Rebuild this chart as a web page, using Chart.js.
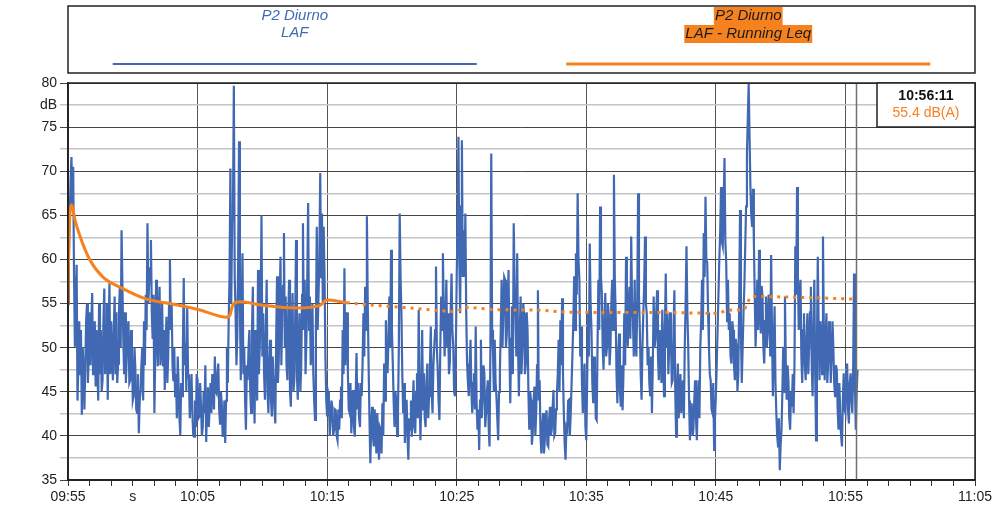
<!DOCTYPE html>
<html>
<head>
<meta charset="utf-8">
<script src="https://cdn.jsdelivr.net/npm/chart.js@4.4.1/dist/chart.umd.min.js"></script>
<style>
  html, body { margin: 0; padding: 0; background: #fff; }
  #wrap { width: 997px; height: 517px; position: relative; }
</style>
</head>
<body>
<div id="wrap"><canvas id="chart"></canvas></div>
<script>
// x axis: seconds after 09:55
const xTickLabels = ['09:55', '10:05', '10:15', '10:25', '10:35', '10:45', '10:55', '11:05'];
const sampleStep = 8; // seconds between LAF readings

// P2 Diurno - LAF (dB), one reading every 8 s from 09:55:00
const lafDb = [
  55, 65, 71.6, 70.5, 50.1, 59.4, 48, 47, 42.4, 47.5,
  48, 55, 49, 48, 56.2, 48.2, 45.6, 47.5, 55, 52,
  46.3, 56.7, 50, 44.1, 57.3, 53, 46.3, 55.8, 54, 48.2,
  56.9, 63.3, 51, 54, 49, 53, 46.3, 49.7, 44.5, 47.5,
  42.6, 40.3, 45, 50, 53, 56, 64.1, 57.5, 62.2, 51,
  42.6, 57.7, 47.9, 56.9, 50, 48, 45.2, 53.5, 49, 60,
  55, 46.2, 44.5, 42, 46, 40.1, 44.5, 57.9, 50.5, 54.7,
  46.5, 44.8, 42.6, 39.9, 41, 46.3, 42.2, 43.3, 41, 42.6,
  39.3, 45.5, 43.3, 42.6, 46.3, 49, 44.8, 48.2, 41.4, 43.7,
  40, 39.2, 50, 53, 70.3, 64.5, 79.7, 53.9, 51.3, 73.4,
  46.3, 60.7, 50.1, 40.7, 46.3, 52, 42.6, 56.9, 41.4, 48.2,
  58.8, 50.1, 65, 53.9, 44.1, 57.7, 42.6, 50.9, 42.2, 46.3,
  41.4, 58.1, 48.6, 60.3, 53.9, 63, 55.8, 46.3, 57.7, 43.3,
  56.2, 46.3, 62.2, 44.1, 53.9, 47.9, 64.1, 57.7, 50.9, 66.4,
  55.8, 50.1, 47.1, 41.8, 63.7, 55.8, 69.8, 65.2, 63.7, 49,
  42.2, 44.5, 41.8, 43.3, 40.7, 42.9, 39.5, 40.7, 45.6, 52,
  59, 50.9, 47.1, 42.6, 40.3, 45.2, 39.9, 49.4, 46, 41,
  44.5, 53.9, 56.9, 64.9, 48, 36.9, 43.3, 38.8, 41, 42.6,
  37.3, 40.7, 43.7, 48.2, 53.1, 47.1, 55.8, 61.1, 48.2, 41,
  44.1, 42.6, 65.2, 53.9, 42.6, 39.2, 44.1, 37.3, 40.7, 39.9,
  46.3, 40.3, 47.1, 54.3, 39.5, 52, 47.1, 41, 48.2, 44.5,
  52.4, 42.6, 50.1, 59.2, 47.5, 41.8, 55.8, 60.7, 49, 57.7,
  53.9, 48.2, 58.4, 50.1, 44.5, 58.1, 73.9, 53.9, 73.5, 63.3,
  65.2, 48.2, 44.5, 50.9, 42.6, 47.1, 52.4, 40.7, 38.4, 50.9,
  44.1, 47.1, 42.6, 46.3, 38.8, 72, 49.4, 50.9, 44.5, 39.5,
  47.5, 57.7, 53.9, 57.7, 51.6, 58.8, 43.7, 54.7, 64.1, 53.9,
  60.7, 44.5, 55.8, 50.1, 53.9, 48.2, 52, 40.7, 44.1, 40.3,
  45.6, 42.6, 56.5, 46.3, 38, 42.6, 39.5, 42.9, 38.8, 43.3,
  40.7, 45.2, 40.3, 44.8, 50.9, 53.1, 55.6, 42.6, 37.3, 40.7,
  44.1, 42.6, 49.4, 58.1, 60.7, 67.5, 57.7, 52.4, 42.6, 48.2,
  39.5, 53.9, 61.8, 52, 43.7, 47.1, 41.8, 57.7, 66, 56.2,
  47.5, 56.2, 50.1, 53.9, 50.1, 57.7, 69.6, 53.9, 43.7, 51.6,
  43.3, 42.9, 53.9, 60.3, 50.1, 56.9, 62.6, 53.1, 57.7, 49,
  67.5, 52, 44.1, 53.9, 62.6, 53.9, 50.1, 44.5, 42.6, 55.8,
  50.9, 56.5, 46.3, 50.1, 54.3, 44.5, 58.4, 53.9, 50.1, 50.9,
  46.3, 56.5, 39.9, 48.2, 44.5, 42.6, 46.3, 50.1, 61.5, 50.1,
  39.5, 43.7, 40.7, 46.3, 39.5, 46.3, 50.1, 57.7, 63, 67.1,
  59.6, 50.1, 46.3, 42.6, 38.4, 44.5, 52, 60, 68.2, 61.5,
  71.5, 59.6, 57.7, 53.9, 48.2, 52, 46.3, 50.1, 47.1, 65.6,
  46, 53.9, 61.5, 72, 79.9, 68.2, 63.7, 62, 50.1, 57.7,
  61.1, 51.6, 55.8, 48.2, 55.8, 51.6, 55.4, 60.5, 44.5, 54.7,
  42.6, 38.8, 36.1, 40.7, 50.1, 55.8, 44.1, 46.3, 40.7, 43.3,
  42.6, 61.5, 68.2, 52, 57.7, 46, 53.9, 46.3, 53.9, 50.1,
  56.9, 44.5, 57.7, 39.5, 60.3, 46.3, 52, 62.6, 46.3, 53.9,
  48.2, 52, 49, 50.1, 44.5, 47.5, 40.7, 42.2, 38.8, 47.1,
  42.6, 48.2, 41.4, 47.1, 42.6, 58.4, 40.7, 47.5
];

// readings 4 s after each of the above (other edge of the fast fluctuation band)
const lafDbMid = [
  60, 69, 66, 58, 55, 44, 53, 52, 50, 43,
  53, 46, 54, 53, 47, 53, 52, 44, 47, 45,
  53, 47, 55, 52, 47, 49, 52, 47, 46, 54,
  50, 57, 47, 46, 52, 46, 52, 44, 50, 43,
  47, 44, 48, 44, 48, 52, 55, 59, 54, 56,
  49, 51, 54, 48, 55, 52, 50, 46, 55, 52,
  48, 50, 47, 49, 42, 46, 50, 48, 45, 47,
  42, 47, 40, 44, 47, 42, 46, 40, 45, 48,
  44, 41, 46, 47, 43, 45, 47, 43, 45, 40,
  44, 44, 46, 58, 55, 66, 58, 48, 60, 55,
  53, 47, 44, 48, 50, 45, 52, 46, 52, 44,
  47, 54, 49, 47, 52, 45, 48, 44, 49, 43,
  51, 46, 55, 48, 57, 50, 48, 54, 45, 51,
  45, 53, 47, 51, 45, 56, 52, 47, 58, 52,
  48, 55, 44, 52, 52, 60, 58, 55, 58, 44,
  45, 40, 44, 40, 43, 40, 43, 44, 42, 47,
  48, 54, 43, 46, 44, 41, 44, 43, 42, 46,
  48, 49, 52, 55, 42, 41, 40, 43, 38, 40,
  41, 38, 40, 44, 48, 51, 50, 52, 44, 45,
  40, 50, 58, 47, 46, 43, 40, 42, 44, 43,
  41, 45, 42, 45, 44, 43, 42, 46, 42, 48,
  45, 48, 52, 50, 44, 50, 52, 54, 53, 50,
  47, 54, 52, 45, 50, 64, 60, 66, 58, 58,
  54, 46, 48, 45, 46, 43, 44, 43, 44, 42,
  48, 41, 45, 41, 50, 52, 45, 46, 42, 45,
  52, 50, 58, 50, 55, 50, 51, 47, 57, 49,
  50, 52, 47, 55, 47, 54, 45, 45, 39, 44,
  40, 48, 44, 40, 41, 38, 42, 39, 42, 40,
  43, 40, 43, 47, 45, 48, 47, 39, 41, 44,
  40, 46, 53, 52, 56, 60, 49, 46, 46, 41,
  46, 49, 55, 46, 49, 42, 50, 52, 58, 50,
  53, 49, 55, 48, 55, 52, 58, 47, 49, 45,
  48, 47, 48, 53, 55, 51, 55, 49, 51, 55,
  56, 47, 50, 57, 55, 48, 46, 49, 48, 50,
  54, 49, 52, 46, 49, 52, 50, 47, 54, 46,
  52, 45, 45, 42, 47, 45, 42, 55, 54, 44,
  43, 40, 44, 42, 44, 42, 53, 52, 58, 60,
  54, 47, 43, 46, 42, 48, 56, 63, 62, 66,
  62, 53, 52, 49, 53, 48, 51, 45, 55, 52,
  50, 57, 66, 76, 74, 65, 68, 56, 54, 52,
  55, 57, 50, 53, 50, 56, 49, 52, 50, 46,
  40, 42, 39, 45, 45, 48, 48, 42, 45, 47,
  48, 56, 58, 56, 49, 52, 48, 51, 47, 54,
  48, 52, 47, 50, 52, 53, 47, 52, 51, 46,
  53, 46, 53, 46, 48, 43, 46, 40, 44, 43,
  47, 43, 46, 44, 48, 46, 45
];

// P2 Diurno - LAF Running Leq
const leqSec = [0, 3, 17, 32, 56, 102, 162, 249, 364, 472, 611, 735, 750, 765, 796, 903, 1059, 1167, 1198,
  1291, 1445, 1584, 1723, 1792, 1846, 1985, 2153, 2356, 2700, 3004, 3050, 3097, 3130, 3144, 3166, 3390, 3650];
const leqDb = [55.0, 61.0, 66.2, 64.5, 62.6, 59.9, 58.0, 56.75, 55.5, 55.0, 54.27, 53.44, 53.7, 54.95, 55.2, 54.8, 54.5, 54.8, 55.4,
  55.1, 54.76, 54.5, 54.2, 54.1, 54.57, 54.3, 54.27, 54.0, 54.0, 53.9, 54.2, 54.27, 54.3, 55.0, 55.8, 55.7, 55.5];

const cursorSec = 3650;
const cursorTime = '10:56:11';
const cursorValue = '55.4 dB(A)';

const BLUE = '#4169b3';
const ORANGE = '#f5821f';
const FONT = '"Liberation Sans", Arial, sans-serif';

// merge the two reading series into one 4 s trace
const lafPoints = [];
lafDb.forEach((v, i) => {
  lafPoints.push({ x: i * sampleStep, y: v });
  if (i < lafDbMid.length) lafPoints.push({ x: i * sampleStep + sampleStep / 2, y: lafDbMid[i] });
});

const overlay = {
  id: 'overlay',
  afterDraw(chart) {
    const { ctx, chartArea: a, scales: { x } } = chart;
    ctx.save();

    // cursor line
    const cx = Math.round(x.getPixelForValue(cursorSec)) + 0.5;
    ctx.strokeStyle = '#707070';
    ctx.lineWidth = 1.5;
    ctx.beginPath();
    ctx.moveTo(cx, a.top);
    ctx.lineTo(cx, a.bottom);
    ctx.stroke();

    // plot frame
    ctx.strokeStyle = '#222';
    ctx.lineWidth = 1.5;
    ctx.strokeRect(a.left, a.top, a.right - a.left, a.bottom - a.top);

    // cursor readout box
    const bx = 877, by = a.top, bw = a.right - 877, bh = 44;
    ctx.fillStyle = '#fff';
    ctx.fillRect(bx, by, bw, bh);
    ctx.strokeRect(bx, by, bw, bh);
    ctx.textAlign = 'center';
    ctx.textBaseline = 'middle';
    ctx.fillStyle = '#111';
    ctx.font = 'bold 14px ' + FONT;
    ctx.fillText(cursorTime, bx + bw / 2, by + 13);
    ctx.fillStyle = ORANGE;
    ctx.font = '14px ' + FONT;
    ctx.fillText(cursorValue, bx + bw / 2, by + 30);

    // legend box
    const lx = a.left, lw = a.right - a.left;
    ctx.strokeStyle = '#222';
    ctx.lineWidth = 1.5;
    ctx.strokeRect(lx, 6, lw, 67);
    ctx.font = 'italic 15px ' + FONT;
    const c1 = lx + lw / 4, c2 = lx + lw * 3 / 4;
    ctx.fillStyle = BLUE;
    ctx.fillText('P2 Diurno', c1, 16);
    ctx.fillText('LAF', c1, 33);
    [['P2 Diurno', 16], ['LAF - Running Leq', 34]].forEach(([t, y]) => {
      const w = ctx.measureText(t).width + 2;
      ctx.fillStyle = ORANGE;
      ctx.fillRect(c2 - w / 2, y - 9, w, 18);
      ctx.fillStyle = '#1a1a1a';
      ctx.fillText(t, c2, y);
    });
    ctx.lineWidth = 2;
    ctx.strokeStyle = BLUE;
    ctx.beginPath(); ctx.moveTo(c1 - 182, 64); ctx.lineTo(c1 + 182, 64); ctx.stroke();
    ctx.lineWidth = 3;
    ctx.strokeStyle = ORANGE;
    ctx.beginPath(); ctx.moveTo(c2 - 182, 64); ctx.lineTo(c2 + 182, 64); ctx.stroke();

    ctx.restore();
  }
};

new Chart(document.getElementById('chart'), {
  type: 'line',
  data: {
    datasets: [
      {
        label: 'LAF - Running Leq',
        data: leqSec.map((s, i) => ({ x: s, y: leqDb[i] })),
        borderColor: ORANGE,
        borderWidth: 3,
        pointRadius: 0,
        cubicInterpolationMode: 'monotone',
        order: 0,
        segment: {
          borderDash: c => c.p0.parsed.x >= 1200 ? [3, 5] : undefined
        }
      },
      {
        label: 'LAF',
        data: lafPoints,
        borderColor: BLUE,
        borderWidth: 2.2,
        pointRadius: 0,
        tension: 0,
        order: 1
      }
    ]
  },
  options: {
    responsive: true,
    maintainAspectRatio: false,
    animation: false,
    events: [],
    layout: { padding: { top: 83, right: 22, left: 0, bottom: 0 } },
    plugins: { legend: { display: false }, tooltip: { enabled: false } },
    scales: {
      x: {
        type: 'linear',
        min: 0,
        max: 4200,
        afterFit: s => { s.height = 37; },
        ticks: {
          stepSize: 100,
          autoSkip: false,
          maxRotation: 0,
          color: '#222',
          font: { family: FONT, size: 14 },
          padding: 3,
          callback: v => {
            if (v % 600 === 0) return xTickLabels[v / 600];
            if (v === 300) return 's';
            return '';
          }
        },
        grid: {
          color: c => (c.tick && c.tick.value % 600 === 0) ? '#555' : 'rgba(0,0,0,0)',
          tickColor: '#333',
          tickLength: 6
        },
        border: { color: '#222', width: 1.5 }
      },
      y: {
        min: 35,
        max: 80,
        afterFit: s => { s.width = 68; },
        ticks: {
          stepSize: 2.5,
          color: '#222',
          font: { family: FONT, size: 14 },
          padding: 3,
          callback: v => (v % 5 === 0 ? v : (v === 77.5 ? 'dB' : ''))
        },
        grid: {
          color: c => (c.tick && c.tick.value % 5 === 0) ? '#444' : '#c4c4c4',
          lineWidth: c => (c.tick && c.tick.value % 5 === 0) ? 1 : 1.5,
          tickLength: 8
        },
        border: { color: '#222', width: 1.5 }
      }
    }
  },
  plugins: [overlay]
});
</script>
</body>
</html>
